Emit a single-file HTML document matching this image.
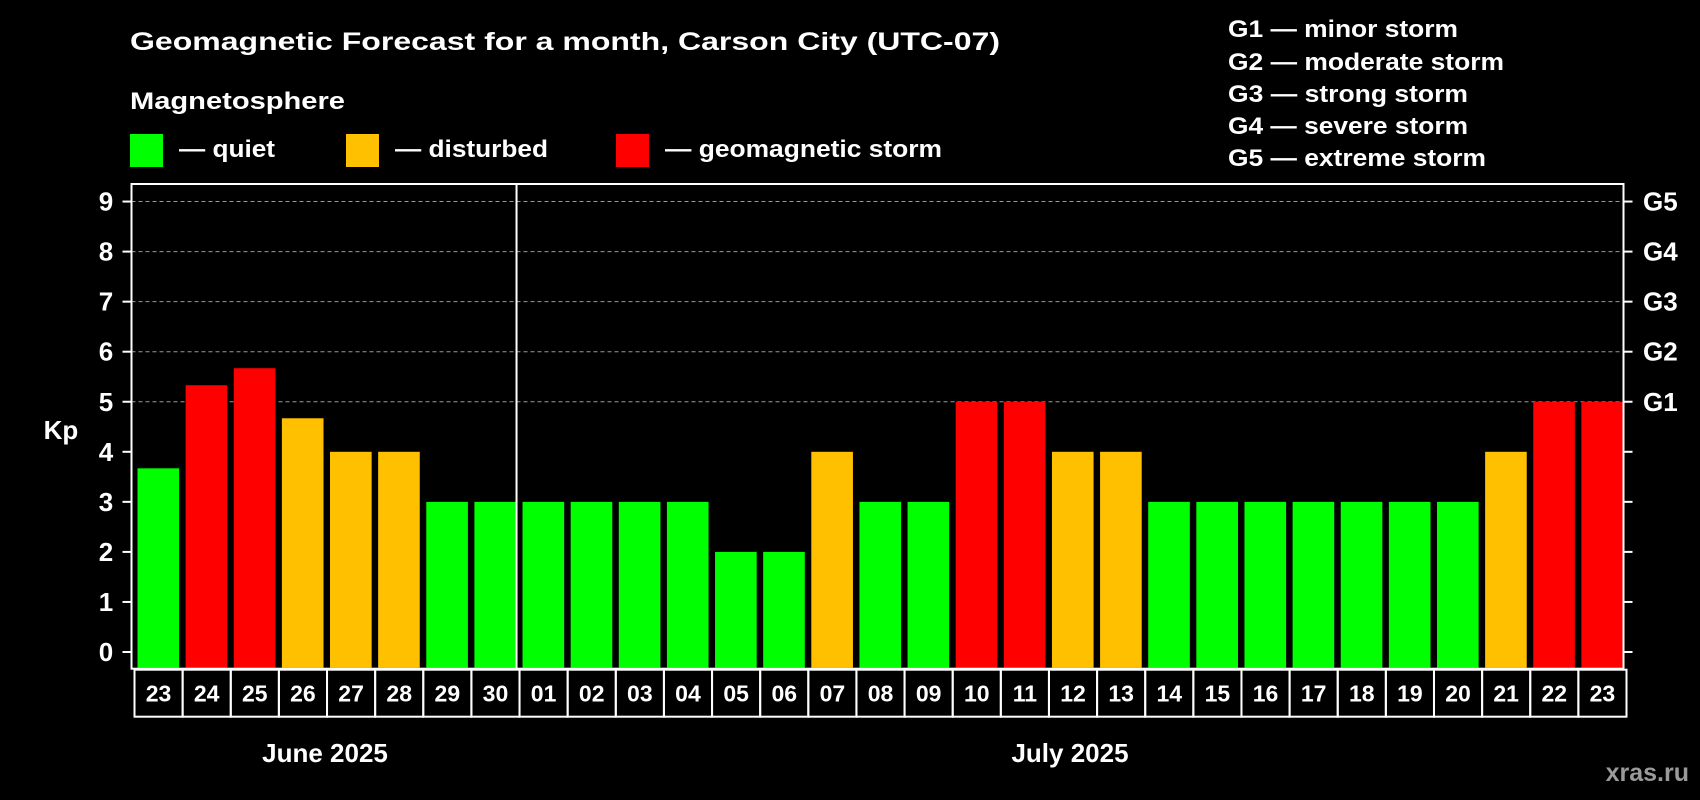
<!DOCTYPE html>
<html><head><meta charset="utf-8"><style>
html,body{margin:0;padding:0;background:#000;}
svg{display:block;font-family:"Liberation Sans",Arial,sans-serif;font-weight:bold;}
</style></head><body>
<svg id="chart" width="1700" height="800" viewBox="0 0 1700 800" xmlns="http://www.w3.org/2000/svg">
<rect width="1700" height="800" fill="#000"/>
<text x="130" y="50" fill="#fff" font-size="25" textLength="870" lengthAdjust="spacingAndGlyphs">Geomagnetic Forecast for a month, Carson City (UTC-07)</text>
<text x="130" y="109" fill="#fff" font-size="24" textLength="215" lengthAdjust="spacingAndGlyphs">Magnetosphere</text>
<g>
<rect x="130" y="134" width="33" height="33" fill="#00ff00"/>
<text x="179" y="157" fill="#fff" font-size="24" textLength="96" lengthAdjust="spacingAndGlyphs">— quiet</text></g>
<g>
<rect x="346" y="134" width="33" height="33" fill="#ffc000"/>
<text x="395" y="157" fill="#fff" font-size="24" textLength="153" lengthAdjust="spacingAndGlyphs">— disturbed</text></g>
<g>
<rect x="616" y="134" width="33" height="33" fill="#ff0000"/>
<text x="665" y="157" fill="#fff" font-size="24" textLength="277" lengthAdjust="spacingAndGlyphs">— geomagnetic storm</text></g>
<g fill="#fff" font-size="24">
<text x="1228" y="37" textLength="230" lengthAdjust="spacingAndGlyphs">G1 — minor storm</text>
<text x="1228" y="70" textLength="276" lengthAdjust="spacingAndGlyphs">G2 — moderate storm</text>
<text x="1228" y="102" textLength="240" lengthAdjust="spacingAndGlyphs">G3 — strong storm</text>
<text x="1228" y="134" textLength="240" lengthAdjust="spacingAndGlyphs">G4 — severe storm</text>
<text x="1228" y="166" textLength="258" lengthAdjust="spacingAndGlyphs">G5 — extreme storm</text>
</g>
<text x="61" y="439" fill="#fff" font-size="26" text-anchor="middle">Kp</text>
<text x="325" y="762" fill="#fff" font-size="26" text-anchor="middle">June 2025</text>
<text x="1070" y="762" fill="#fff" font-size="26" text-anchor="middle">July 2025</text>
<text x="1689" y="781" fill="#9a9a9a" font-size="25" text-anchor="end">xras.ru</text>
<g id="grid"></g><g id="bars"></g><g id="axes"></g>
</svg>
<script>
const days = ["23","24","25","26","27","28","29","30","01","02","03","04","05","06","07","08","09","10","11","12","13","14","15","16","17","18","19","20","21","22","23"];
const kpValues = [3.67,5.33,5.67,4.67,4,4,3,3,3,3,3,3,2,2,4,3,3,5,5,4,4,3,3,3,3,3,3,3,4,5,5];
const status = ["q","s","s","d","d","d","q","q","q","q","q","q","q","q","d","q","q","s","s","d","d","q","q","q","q","q","q","q","d","s","s"];
const yTicks = [0,1,2,3,4,5,6,7,8,9];
const gLabels = ["G1","G2","G3","G4","G5"];
const gLevels = [5,6,7,8,9];
const monthBreak = 8;

const NS="http://www.w3.org/2000/svg";
const L=131.5,R=1623.5,T=184,B=668.7;
const pitch=(R-L)/days.length;
const yScale=v=>652-50.05*v;
const xScale=i=>L+i*pitch;
const colors={q:"#00ff00",d:"#ffc000",s:"#ff0000"};
function mk(tag,attrs,parent){const e=document.createElementNS(NS,tag);for(const k in attrs)e.setAttribute(k,attrs[k]);parent.appendChild(e);return e;}
const grid=document.getElementById('grid'),bars=document.getElementById('bars'),axes=document.getElementById('axes');
gLevels.forEach((v,i)=>{
  const ln=mk('line',{x1:L,x2:R,y1:yScale(v),y2:yScale(v),stroke:'#999','stroke-width':1,'stroke-dasharray':'4,3'},grid);
  
  
});
kpValues.forEach((v,i)=>{
  const r=mk('rect',{x:xScale(i)+6,y:yScale(v),width:pitch-6-0.5,height:Math.max(0,B-1-yScale(v)),fill:colors[status[i]]},bars);
  
  
});
const frame=mk('rect',{x:L,y:T,width:R-L,height:B-T,fill:'none',stroke:'#fff','stroke-width':2},axes);


const div=mk('line',{x1:xScale(monthBreak),x2:xScale(monthBreak),y1:T,y2:B,stroke:'#fff','stroke-width':2},axes);


yTicks.forEach(v=>{
  const y=yScale(v);
  mk('line',{x1:L-9,x2:L,y1:y,y2:y,stroke:'#fff','stroke-width':2},axes);
  mk('line',{x1:R,x2:R+9,y1:y,y2:y,stroke:'#fff','stroke-width':2},axes);
  const t=mk('text',{x:106,y:y+9,fill:'#fff','font-size':26,'text-anchor':'middle'},axes);
  t.textContent=v;
  
  
});
gLabels.forEach((g,i)=>{
  const t=mk('text',{x:1643,y:yScale(gLevels[i])+9,fill:'#fff','font-size':26},axes);
  t.textContent=g;
  
  
});
days.forEach((d,i)=>{
  const bx=mk('rect',{x:xScale(i)+3,y:B+1,width:pitch,height:47,fill:'none',stroke:'#fff','stroke-width':2},axes);
  
  
  const t=mk('text',{x:xScale(i)+3+pitch/2,y:B+33,fill:'#fff','font-size':23,'text-anchor':'middle'},axes);
  t.textContent=d;
  
  
});
</script>
</body></html>
